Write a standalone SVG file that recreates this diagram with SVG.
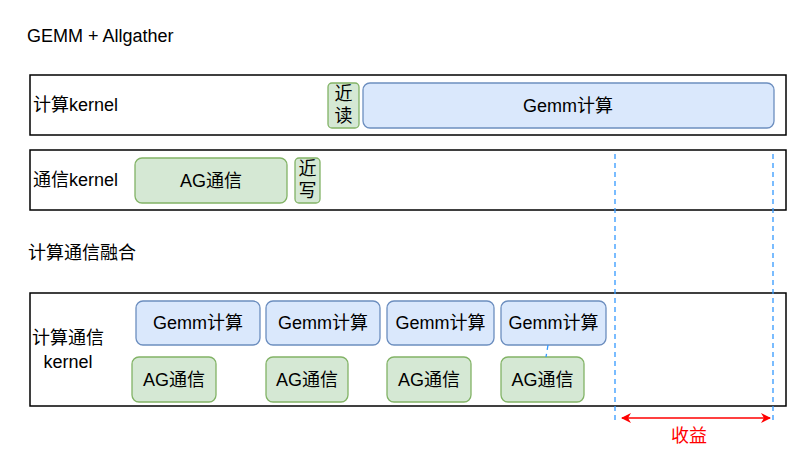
<svg xmlns="http://www.w3.org/2000/svg" width="802" height="474" viewBox="0 0 802 474">
<defs>
<style>
text{font-family:"Liberation Sans","Noto Sans CJK SC",sans-serif;font-size:18px;fill:#000}
.frame{fill:#fff;stroke:#000;stroke-width:1.5}
.b{fill:#dae8fc;stroke:#6c8ebf;stroke-width:1.3}
.g{fill:#d5e8d4;stroke:#82b366;stroke-width:1.3}
.c{text-anchor:middle;dominant-baseline:central}
.dash{stroke:#3399ff;stroke-width:1.3;stroke-dasharray:5 4;fill:none}
</style>
<marker id="ah" viewBox="0 0 10 10" refX="9" refY="5" markerWidth="10" markerHeight="10" markerUnits="userSpaceOnUse" orient="auto-start-reverse">
<path d="M0,0 L10,5 L0,10 L3,5 Z" fill="#ff0000"/>
</marker>
</defs>
<rect width="802" height="474" fill="#fff"/>
<text x="27" y="42">GEMM + Allgather</text>
<text x="28" y="259">计算通信融合</text>
<g id="frame-compute"><rect class="frame" x="30" y="75" width="756" height="60"/><text x="33" y="105" dominant-baseline="central">计算kernel</text></g>
<g id="frame-comm"><rect class="frame" x="30" y="150" width="756" height="60"/><text x="33" y="180" dominant-baseline="central">通信kernel</text></g>
<g id="frame-fused"><rect class="frame" x="30" y="293" width="756" height="113"/><text x="68" y="338" class="c">计算通信</text><text x="68" y="362" class="c">kernel</text></g>
<g id="near-read"><rect class="g" x="328" y="83" width="31" height="45" rx="4"/><text x="343.5" y="94" class="c">近</text><text x="343.5" y="116" class="c">读</text></g>
<g id="gemm-main"><rect class="b" x="363" y="83" width="411" height="45" rx="7"/><text x="568" y="105.5" class="c">Gemm计算</text></g>
<g id="ag-main"><rect class="g" x="135" y="158" width="152" height="45" rx="7"/><text x="211" y="180.5" class="c">AG通信</text></g>
<g id="near-write"><rect class="g" x="295" y="158" width="25" height="45" rx="4"/><text x="307.5" y="169" class="c">近</text><text x="307.5" y="191" class="c">写</text></g>
<g id="gemm1"><rect class="b" x="136" y="301" width="124" height="44" rx="7"/><text x="198" y="323" class="c">Gemm计算</text></g>
<g id="gemm2"><rect class="b" x="266" y="301" width="114" height="44" rx="7"/><text x="323" y="323" class="c">Gemm计算</text></g>
<g id="gemm3"><rect class="b" x="387" y="301" width="107" height="44" rx="7"/><text x="440.5" y="323" class="c">Gemm计算</text></g>
<g id="gemm4"><rect class="b" x="501" y="301" width="105" height="44" rx="7"/><text x="553.5" y="323" class="c">Gemm计算</text></g>
<g id="ag1"><rect class="g" x="132" y="357" width="84" height="45" rx="7"/><text x="174" y="379.5" class="c">AG通信</text></g>
<g id="ag2"><rect class="g" x="266" y="357" width="82" height="45" rx="7"/><text x="307" y="379.5" class="c">AG通信</text></g>
<g id="ag3"><rect class="g" x="387" y="357" width="84" height="45" rx="7"/><text x="429" y="379.5" class="c">AG通信</text></g>
<g id="ag4"><rect class="g" x="501" y="357" width="83" height="45" rx="7"/><text x="542.5" y="379.5" class="c">AG通信</text></g>
<g id="connectors">
<line class="dash" x1="615" y1="154" x2="615" y2="421"/>
<line class="dash" x1="773" y1="154" x2="773" y2="421"/>
<line class="dash" x1="548" y1="345" x2="546" y2="357"/>
<line x1="622" y1="418" x2="770" y2="418" stroke="#ff0000" stroke-width="1.5" marker-start="url(#ah)" marker-end="url(#ah)"/>
</g>
<text x="689" y="436" class="c" style="fill:#ff0000">收益</text>
</svg>
